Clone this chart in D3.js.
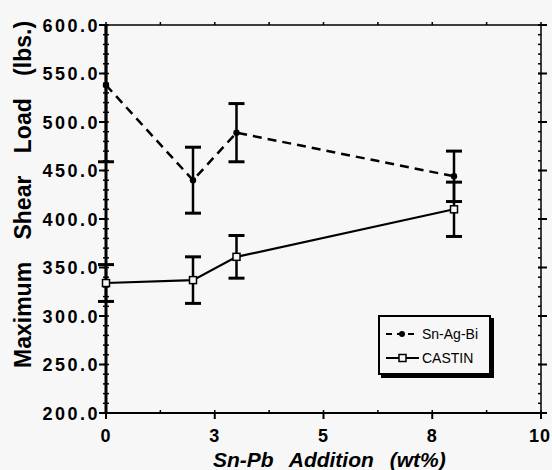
<!DOCTYPE html>
<html>
<head>
<meta charset="utf-8">
<script src="https://cdn.jsdelivr.net/npm/d3@7"></script>
<style>
  body { margin: 0; background: #f7f7f7; }
  svg { display: block; background: #f7f7f7; }
  text { font-family: "Liberation Sans", Arial, sans-serif; fill: #000; }
</style>
</head>
<body>
<div id="chart"></div>
<script>
// values
const additions = [0, 2, 3, 8];                 // Sn-Pb addition (wt%)
const snAgBi = [538, 440, 489, 444];
const snAgBiErr = [79, 34, 30, 26];
const castin = [334, 337, 361, 410];
const castinErr = [19, 24, 22, 28];
const xTicks = [0, 2.5, 5, 7.5, 10];
const xTickLabels = ["0", "3", "5", "8", "10"];
const yTicks = [200, 250, 300, 350, 400, 450, 500, 550, 600];

const width = 552, height = 470;
const margin = {top: 25, right: 11, bottom: 57, left: 106};

const svg = d3.select("#chart").append("svg")
    .attr("width", width)
    .attr("height", height);

const x = d3.scaleLinear().domain([0, 10]).range([margin.left, width - margin.right]);
const y = d3.scaleLinear().domain([200, 600]).range([height - margin.bottom, margin.top]);

svg.append("clipPath").attr("id", "plot")
    .append("rect")
    .attr("x", x(0) - 20).attr("y", y(600))
    .attr("width", x(10) - x(0) + 40).attr("height", y(200) - y(600));

// minor ticks
const yMinor = d3.range(200, 601, 10);
const xMinor = d3.range(0, 10.01, 1.25);

const g = svg.append("g");
// left axis
g.selectAll(".ymin").data(yMinor).enter().append("line")
    .attr("x1", x(0) - 3).attr("x2", x(0) + 3)
    .attr("y1", d => y(d)).attr("y2", d => y(d))
    .attr("stroke", "#000").attr("stroke-width", 1.5);
g.selectAll(".ymaj").data(yTicks).enter().append("line")
    .attr("x1", x(0) - 7).attr("x2", x(0))
    .attr("y1", d => y(d)).attr("y2", d => y(d))
    .attr("stroke", "#000").attr("stroke-width", 2);
// right axis
g.selectAll(".rmin").data(yMinor).enter().append("line")
    .attr("x1", x(10) - 3).attr("x2", x(10))
    .attr("y1", d => y(d)).attr("y2", d => y(d))
    .attr("stroke", "#000").attr("stroke-width", 1.5);
g.selectAll(".rmaj").data(yTicks).enter().append("line")
    .attr("x1", x(10) - 3).attr("x2", x(10) + 6)
    .attr("y1", d => y(d)).attr("y2", d => y(d))
    .attr("stroke", "#000").attr("stroke-width", 2);
// bottom and top ticks
g.selectAll(".xmin").data(xMinor).enter().append("line")
    .attr("x1", d => x(d)).attr("x2", d => x(d))
    .attr("y1", y(200) - 3).attr("y2", y(200))
    .attr("stroke", "#000").attr("stroke-width", 1.5);
g.selectAll(".xmaj").data(xTicks).enter().append("line")
    .attr("x1", d => x(d)).attr("x2", d => x(d))
    .attr("y1", y(200)).attr("y2", y(200) + 6)
    .attr("stroke", "#000").attr("stroke-width", 2);
g.selectAll(".tmin").data(xMinor).enter().append("line")
    .attr("x1", d => x(d)).attr("x2", d => x(d))
    .attr("y1", y(600) - 3).attr("y2", y(600))
    .attr("stroke", "#000").attr("stroke-width", 1.5);

// frame
g.append("line").attr("x1", x(0)).attr("x2", x(10)).attr("y1", y(600)).attr("y2", y(600))
    .attr("stroke", "#000").attr("stroke-width", 1.5);
g.append("line").attr("x1", x(10)).attr("x2", x(10)).attr("y1", y(600)).attr("y2", y(200))
    .attr("stroke", "#000").attr("stroke-width", 1.5);
g.append("line").attr("x1", x(0)).attr("x2", x(10)).attr("y1", y(200)).attr("y2", y(200))
    .attr("stroke", "#000").attr("stroke-width", 2);
g.append("line").attr("x1", x(0)).attr("x2", x(0)).attr("y1", y(600)).attr("y2", y(200))
    .attr("stroke", "#000").attr("stroke-width", 3);

// tick labels
svg.selectAll(".ylab").data(yTicks).enter().append("text")
    .attr("x", 100).attr("y", d => y(d) + 6.5)
    .attr("text-anchor", "end")
    .style("font-size", "18px").style("font-weight", "bold").style("letter-spacing", "2.5px")
    .text(d => d3.format(".1f")(d));
svg.selectAll(".xlab").data(xTicks).enter().append("text")
    .attr("x", (d, i) => i === 4 ? 551 : x(d))
    .attr("y", 442)
    .attr("text-anchor", (d, i) => i === 4 ? "end" : "middle")
    .style("font-size", "18px").style("font-weight", "bold").style("letter-spacing", "1px")
    .text((d, i) => xTickLabels[i]);

// axis titles
svg.append("text")
    .attr("x", 213).attr("y", 467)
    .style("font-size", "21px").style("font-weight", "bold").style("font-style", "italic")
    .style("word-spacing", "10px")
    .text("Sn-Pb Addition (wt%)");
svg.append("text")
    .attr("transform", "translate(31,368) rotate(-90)")
    .style("font-size", "23px").style("font-weight", "bold")
    .style("word-spacing", "16px")
    .text("Maximum Shear Load (lbs.)");

const plot = svg.append("g").attr("clip-path", "url(#plot)");

function errorBars(vals, errs) {
    const eg = plot.append("g");
    additions.forEach((a, i) => {
        eg.append("line")
            .attr("x1", x(a)).attr("x2", x(a))
            .attr("y1", y(vals[i] + errs[i])).attr("y2", y(vals[i] - errs[i]))
            .attr("stroke", "#000").attr("stroke-width", 2.5);
        [vals[i] + errs[i], vals[i] - errs[i]].forEach(v => {
            eg.append("line")
                .attr("x1", x(a) - 8).attr("x2", x(a) + 8)
                .attr("y1", y(v)).attr("y2", y(v))
                .attr("stroke", "#000").attr("stroke-width", 3);
        });
    });
}
errorBars(snAgBi, snAgBiErr);
errorBars(castin, castinErr);

const line = d3.line().x((d, i) => x(additions[i])).y(d => y(d));

plot.append("path").datum(snAgBi)
    .attr("d", line).attr("fill", "none")
    .attr("stroke", "#000").attr("stroke-width", 2.5).attr("stroke-dasharray", "9,6");
plot.append("path").datum(castin)
    .attr("d", line).attr("fill", "none")
    .attr("stroke", "#000").attr("stroke-width", 2.2);

plot.selectAll(".dot").data(snAgBi).enter().append("circle")
    .attr("cx", (d, i) => x(additions[i])).attr("cy", d => y(d))
    .attr("r", 3.2).attr("fill", "#000");
plot.selectAll(".sq").data(castin).enter().append("rect")
    .attr("x", (d, i) => x(additions[i]) - 3.5).attr("y", d => y(d) - 3.5)
    .attr("width", 7).attr("height", 7)
    .attr("fill", "#f7f7f7").attr("stroke", "#000").attr("stroke-width", 1.5);

// legend
const lg = svg.append("g").attr("transform", "translate(379,316)");
lg.append("rect").attr("x", 2).attr("y", 2).attr("width", 113).attr("height", 60)
    .attr("fill", "#000");
lg.append("rect").attr("x", 0).attr("y", 0).attr("width", 111).attr("height", 58)
    .attr("fill", "#f7f7f7").attr("stroke", "#000").attr("stroke-width", 2);
const legendItems = [
    {name: "Sn-Ag-Bi", dash: "6,5", y: 18},
    {name: "CASTIN", dash: null, y: 42}
];
legendItems.forEach((it, i) => {
    lg.append("line").attr("x1", 7).attr("x2", 40).attr("y1", it.y).attr("y2", it.y)
        .attr("stroke", "#000").attr("stroke-width", 2)
        .attr("stroke-dasharray", it.dash);
    if (i === 0) {
        lg.append("circle").attr("cx", 23).attr("cy", it.y).attr("r", 3).attr("fill", "#000");
    } else {
        lg.append("rect").attr("x", 20).attr("y", it.y - 3.5).attr("width", 7).attr("height", 7)
            .attr("fill", "#f7f7f7").attr("stroke", "#000").attr("stroke-width", 1.5);
    }
    lg.append("text").attr("x", 43).attr("y", it.y + 5)
        .style("font-family", "'Liberation Sans Narrow', 'Liberation Sans', sans-serif")
        .style("font-size", "14px")
        .text(it.name);
});
</script>
</body>
</html>
